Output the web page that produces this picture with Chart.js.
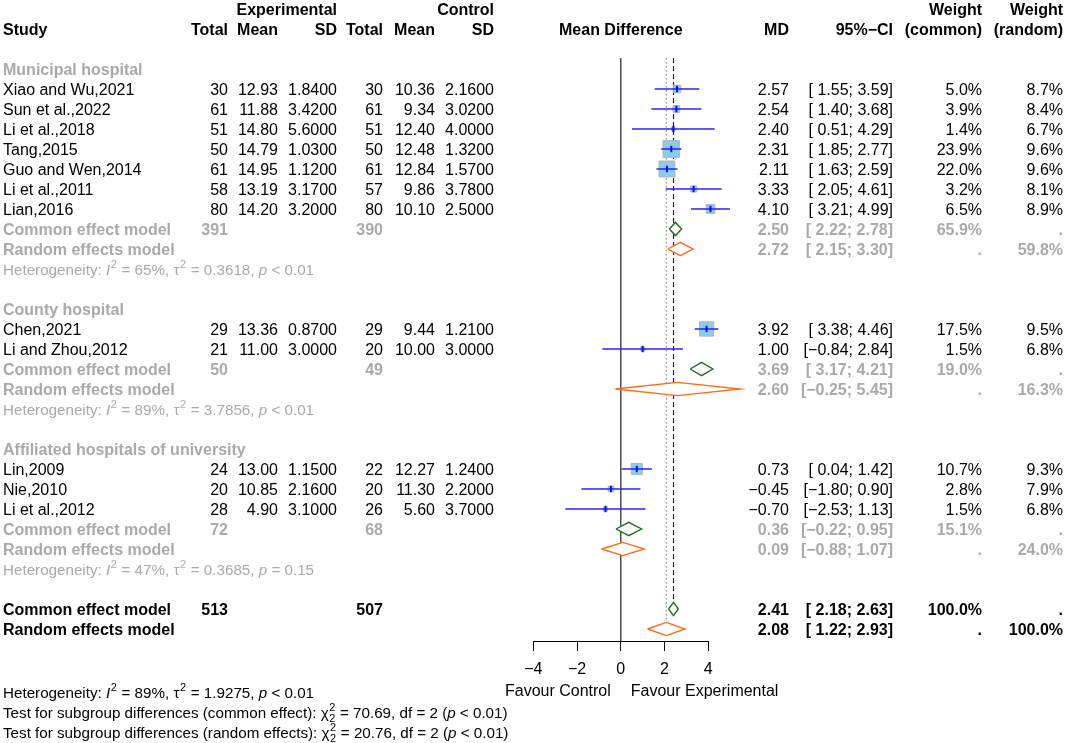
<!DOCTYPE html>
<html>
<head>
  <title>Forest plot - mean difference by hospital type</title>
  <style>
    body { margin: 0; background: #fff; }
    #wrap { width: 1065px; height: 743px; position: relative; }
  </style>
</head>
<body>
  <div id="wrap"><canvas id="forest"></canvas></div>

  <script src="https://cdn.jsdelivr.net/npm/chart.js"></script>
  <script>
    // ---- data ----
    const groups = ['Municipal hospital', 'County hospital', 'Affiliated hospitals of university'];
    const studies = ['Xiao and Wu,2021', 'Sun et al.,2022', 'Li et al.,2018', 'Tang,2015', 'Guo and Wen,2014',
      'Li et al.,2011', 'Lian,2016', 'Chen,2021', 'Li and Zhou,2012', 'Lin,2009', 'Nie,2010', 'Li et al.,2012'];
    const studyGroup = [0, 0, 0, 0, 0, 0, 0, 1, 1, 2, 2, 2];
    const expTotal = [30, 61, 51, 50, 61, 58, 80, 29, 21, 24, 20, 28];
    const expMean = [12.93, 11.88, 14.80, 14.79, 14.95, 13.19, 14.20, 13.36, 11.00, 13.00, 10.85, 4.90];
    const expSD = [1.84, 3.42, 5.6, 1.03, 1.12, 3.17, 3.2, 0.87, 3.0, 1.15, 2.16, 3.1];
    const ctlTotal = [30, 61, 51, 50, 61, 57, 80, 29, 20, 22, 20, 26];
    const ctlMean = [10.36, 9.34, 12.40, 12.48, 12.84, 9.86, 10.10, 9.44, 10.00, 12.27, 11.30, 5.60];
    const ctlSD = [2.16, 3.02, 4.0, 1.32, 1.57, 3.78, 2.5, 1.21, 3.0, 1.24, 2.2, 3.7];
    const md = [2.57, 2.54, 2.40, 2.31, 2.11, 3.33, 4.10, 3.92, 1.00, 0.73, -0.45, -0.70];
    const ciLow = [1.55, 1.40, 0.51, 1.85, 1.63, 2.05, 3.21, 3.38, -0.84, 0.04, -1.80, -2.53];
    const ciHigh = [3.59, 3.68, 4.29, 2.77, 2.59, 4.61, 4.99, 4.46, 2.84, 1.42, 0.90, 1.13];
    const wCommon = [5.0, 3.9, 1.4, 23.9, 22.0, 3.2, 6.5, 17.5, 1.5, 10.7, 2.8, 1.5];
    const wRandom = [8.7, 8.4, 6.7, 9.6, 9.6, 8.1, 8.9, 9.5, 6.8, 9.3, 7.9, 6.8];

    // subgroup pooled results
    const subExpTotal = [391, 50, 72];
    const subCtlTotal = [390, 49, 68];
    const subCommonMD = [2.50, 3.69, 0.36];
    const subCommonLow = [2.22, 3.17, -0.22];
    const subCommonHigh = [2.78, 4.21, 0.95];
    const subCommonW = [65.9, 19.0, 15.1];
    const subRandomMD = [2.72, 2.60, 0.09];
    const subRandomLow = [2.15, -0.25, -0.88];
    const subRandomHigh = [3.30, 5.45, 1.07];
    const subRandomW = [59.8, 16.3, 24.0];
    const subI2 = ['65%', '89%', '47%'];
    const subTau2 = ['0.3618', '3.7856', '0.3685'];
    const subP = ['< 0.01', '< 0.01', '= 0.15'];

    // overall pooled results
    const allTotals = [513, 507];
    const allCommon = [2.41, 2.18, 2.63];
    const allRandom = [2.08, 1.22, 2.93];
    const allHet = ['89%', '1.9275', '< 0.01'];
    const subgroupTests = [['common effect', '70.69'], ['random effects', '20.76']];

    const xTicks = [-4, -2, 0, 2, 4];

    // ---- rows ----
    let r = 0;
    const groupRow = [], studyRow = [], subCommonRow = [], subRandomRow = [], subHetRow = [];
    groups.forEach((g, gi) => {
      groupRow.push(r++);
      studies.forEach((s, si) => { if (studyGroup[si] === gi) studyRow[si] = r++; });
      subCommonRow.push(r++);
      subRandomRow.push(r++);
      subHetRow.push(r++);
      r++;
    });
    const allCommonRow = r, allRandomRow = r + 1;

    const FONT = '"Liberation Sans", Arial, Helvetica, sans-serif';
    const GRAY = '#a9a9a9';
    const SMALL = 15.2;
    const minus = s => s.replace('-', '\u2212');
    const f2 = v => minus(v.toFixed(2));
    const ci = (lo, hi) => '[' + (lo < 0 ? '' : ' ') + f2(lo) + '; ' + f2(hi) + ']';
    const pct = v => v.toFixed(1) + '%';

    // ---- datasets ----
    const datasets = [];
    const H = 0.33;
    function diamond(est, lo, hi, row, color) {
      datasets.push({
        type: 'line', order: 3, clip: false,
        data: [{x: lo, y: row}, {x: est, y: row - H}, {x: hi, y: row}, {x: est, y: row + H}, {x: lo, y: row}],
        borderColor: color, borderWidth: 1.4, backgroundColor: '#ffffff', fill: 'shape',
        pointRadius: 0, tension: 0
      });
    }
    function vline(x, y0, y1, color, dash, width) {
      datasets.push({
        type: 'line', order: 10, clip: false,
        data: [{x: x, y: y0}, {x: x, y: y1}],
        borderColor: color, borderWidth: width, borderDash: dash, pointRadius: 0, fill: false
      });
    }

    vline(0, -0.55, 28.6, '#333333', [], 1.3);
    vline(allCommon[0], -0.55, allCommonRow - H, '#222222', [5, 3], 1.2);
    vline(allRandom[0], -0.55, allRandomRow - H, '#8a8a8a', [1.5, 2.5], 1.2);

    studies.forEach((s, i) => {
      datasets.push({
        type: 'line', order: 2, clip: false,
        data: [{x: ciLow[i], y: studyRow[i]}, {x: ciHigh[i], y: studyRow[i]}],
        borderColor: '#2323ff', borderWidth: 1.5, pointRadius: 0, fill: false
      });
    });
    // squares sized by common-effect weight
    datasets.push({
      type: 'scatter', order: 4, clip: false,
      data: studies.map((s, i) => ({x: md[i], y: studyRow[i]})),
      pointStyle: 'rect',
      pointRadius: wCommon.map(w => 3.4 * Math.sqrt(w) / Math.SQRT2),
      backgroundColor: '#8ccbea', borderColor: '#b4b4b4', borderWidth: 1
    });
    // point estimate ticks
    datasets.push({
      type: 'scatter', order: 1, clip: false,
      data: studies.map((s, i) => ({x: md[i], y: studyRow[i]})),
      pointStyle: 'line', rotation: 90, pointRadius: 3.2,
      borderColor: '#1010ee', borderWidth: 2
    });

    groups.forEach((g, gi) => {
      diamond(subCommonMD[gi], subCommonLow[gi], subCommonHigh[gi], subCommonRow[gi], '#1e6e1e');
      diamond(subRandomMD[gi], subRandomLow[gi], subRandomHigh[gi], subRandomRow[gi], '#ff6a1a');
    });
    diamond(allCommon[0], allCommon[1], allCommon[2], allCommonRow, '#1e6e1e');
    diamond(allRandom[0], allRandom[1], allRandom[2], allRandomRow, '#ff6a1a');

    // ---- text columns ----
    const colX = { eTot: 228, eMean: 278, eSD: 337, cTot: 383, cMean: 435, cSD: 494,
                   md: 789, ci: 893, wc: 982, wr: 1063 };

    function rich(ctx, x, y, parts, size, color) {
      ctx.fillStyle = color;
      ctx.textAlign = 'left';
      parts.forEach(([t, k]) => {
        if (k === 'sup' || k === 'supsub') {
          ctx.font = (size * 0.72) + 'px ' + FONT;
          ctx.fillText(t, x + 0.5, y - size * 0.42);
          if (k === 'supsub') ctx.fillText(t, x + 0.5, y + size * 0.3);
          x += ctx.measureText(t).width + 1;
        } else {
          ctx.font = (k === 'i' ? 'italic ' : '') + size + 'px ' + FONT;
          ctx.fillText(t, x, y);
          x += ctx.measureText(t).width;
        }
      });
    }
    function hetParts(i2, tau2, p) {
      return [['Heterogeneity: ', 'n'], ['I', 'i'], ['2', 'sup'], [' = ' + i2 + ', ', 'n'],
              ['\u03c4', 'n'], ['2', 'sup'], [' = ' + tau2 + ', ', 'n'], ['p', 'i'], [' ' + p, 'n']];
    }

    const textPlugin = {
      id: 'forestText',
      afterDraw(chart) {
        const ctx = chart.ctx;
        const ys = chart.scales.y;
        const Y = row => ys.getPixelForValue(row) + 5.5;
        const put = (t, x, row, align, bold, color) => {
          ctx.font = (bold ? 'bold ' : '') + '16px ' + FONT;
          ctx.fillStyle = color || '#000';
          ctx.textAlign = align;
          ctx.fillText(t, x, Y(row));
        };
        ctx.save();
        ctx.textBaseline = 'alphabetic';

        // header
        put('Experimental', colX.eSD, -3, 'right', true);
        put('Control', colX.cSD, -3, 'right', true);
        put('Weight', colX.wc, -3, 'right', true);
        put('Weight', colX.wr, -3, 'right', true);
        put('Study', 3, -2, 'left', true);
        put('Total', colX.eTot, -2, 'right', true);
        put('Mean', colX.eMean, -2, 'right', true);
        put('SD', colX.eSD, -2, 'right', true);
        put('Total', colX.cTot, -2, 'right', true);
        put('Mean', colX.cMean, -2, 'right', true);
        put('SD', colX.cSD, -2, 'right', true);
        put('Mean Difference', (chart.chartArea.left + chart.chartArea.right) / 2, -2, 'center', true);
        put('MD', colX.md, -2, 'right', true);
        put('95%\u2212CI', colX.ci, -2, 'right', true);
        put('(common)', colX.wc, -2, 'right', true);
        put('(random)', colX.wr, -2, 'right', true);

        studies.forEach((s, i) => {
          const row = studyRow[i];
          put(s, 3, row, 'left');
          put(String(expTotal[i]), colX.eTot, row, 'right');
          put(expMean[i].toFixed(2), colX.eMean, row, 'right');
          put(expSD[i].toFixed(4), colX.eSD, row, 'right');
          put(String(ctlTotal[i]), colX.cTot, row, 'right');
          put(ctlMean[i].toFixed(2), colX.cMean, row, 'right');
          put(ctlSD[i].toFixed(4), colX.cSD, row, 'right');
          put(f2(md[i]), colX.md, row, 'right');
          put(ci(ciLow[i], ciHigh[i]), colX.ci, row, 'right');
          put(pct(wCommon[i]), colX.wc, row, 'right');
          put(pct(wRandom[i]), colX.wr, row, 'right');
        });

        groups.forEach((g, gi) => {
          put(g, 3, groupRow[gi], 'left', true, GRAY);
          let row = subCommonRow[gi];
          put('Common effect model', 3, row, 'left', true, GRAY);
          put(String(subExpTotal[gi]), colX.eTot, row, 'right', true, GRAY);
          put(String(subCtlTotal[gi]), colX.cTot, row, 'right', true, GRAY);
          put(f2(subCommonMD[gi]), colX.md, row, 'right', true, GRAY);
          put(ci(subCommonLow[gi], subCommonHigh[gi]), colX.ci, row, 'right', true, GRAY);
          put(pct(subCommonW[gi]), colX.wc, row, 'right', true, GRAY);
          put('.', colX.wr, row, 'right', true, GRAY);
          row = subRandomRow[gi];
          put('Random effects model', 3, row, 'left', true, GRAY);
          put(f2(subRandomMD[gi]), colX.md, row, 'right', true, GRAY);
          put(ci(subRandomLow[gi], subRandomHigh[gi]), colX.ci, row, 'right', true, GRAY);
          put('.', colX.wc, row, 'right', true, GRAY);
          put(pct(subRandomW[gi]), colX.wr, row, 'right', true, GRAY);
          rich(ctx, 3, Y(subHetRow[gi]), hetParts(subI2[gi], subTau2[gi], subP[gi]), SMALL, GRAY);
        });

        let row = allCommonRow;
        put('Common effect model', 3, row, 'left', true);
        put(String(allTotals[0]), colX.eTot, row, 'right', true);
        put(String(allTotals[1]), colX.cTot, row, 'right', true);
        put(f2(allCommon[0]), colX.md, row, 'right', true);
        put(ci(allCommon[1], allCommon[2]), colX.ci, row, 'right', true);
        put('100.0%', colX.wc, row, 'right', true);
        put('.', colX.wr, row, 'right', true);
        row = allRandomRow;
        put('Random effects model', 3, row, 'left', true);
        put(f2(allRandom[0]), colX.md, row, 'right', true);
        put(ci(allRandom[1], allRandom[2]), colX.ci, row, 'right', true);
        put('.', colX.wc, row, 'right', true);
        put('100.0%', colX.wr, row, 'right', true);

        // favour labels under the axis
        const x0 = chart.scales.x.getPixelForValue(0);
        put('Favour Control', x0 - 10, 31.05, 'right');
        put('Favour Experimental', x0 + 10, 31.05, 'left');

        // footer
        rich(ctx, 3, Y(31.15), hetParts(allHet[0], allHet[1], allHet[2]), SMALL, '#000');
        subgroupTests.forEach((t, k) => {
          rich(ctx, 3, Y(32.15 + k), [['Test for subgroup differences (' + t[0] + '): ', 'n'], ['\u03c7', 'n'],
            ['2', 'supsub'], [' = ' + t[1] + ', df = 2 (', 'n'], ['p', 'i'], [' < 0.01)', 'n']], SMALL, '#000');
        });
        ctx.restore();
      }
    };

    Chart.defaults.font.family = FONT;
    Chart.defaults.font.size = 16;
    Chart.defaults.color = '#000';

    new Chart(document.getElementById('forest'), {
      type: 'scatter',
      data: { datasets: datasets },
      options: {
        responsive: true,
        maintainAspectRatio: false,
        animation: false,
        layout: { padding: { left: 533.3, right: 356.7, top: 58, bottom: 0 } },
        plugins: { legend: { display: false }, tooltip: { enabled: false } },
        scales: {
          x: {
            type: 'linear', min: -4, max: 4,
            afterBuildTicks: axis => { axis.ticks = xTicks.map(v => ({ value: v })); },
            afterFit: axis => { axis.height = 102; },
            ticks: { padding: 9, font: { size: 16 }, color: '#000', maxRotation: 0,
                     callback: v => minus(String(v)) },
            grid: { drawOnChartArea: false, drawTicks: true, tickLength: 10, color: '#000', lineWidth: 1 },
            border: { display: true, color: '#000', width: 1 }
          },
          y: { type: 'linear', display: false, reverse: true, min: -0.55, max: 28.6 }
        }
      },
      plugins: [textPlugin]
    });
  </script>
</body>
</html>
